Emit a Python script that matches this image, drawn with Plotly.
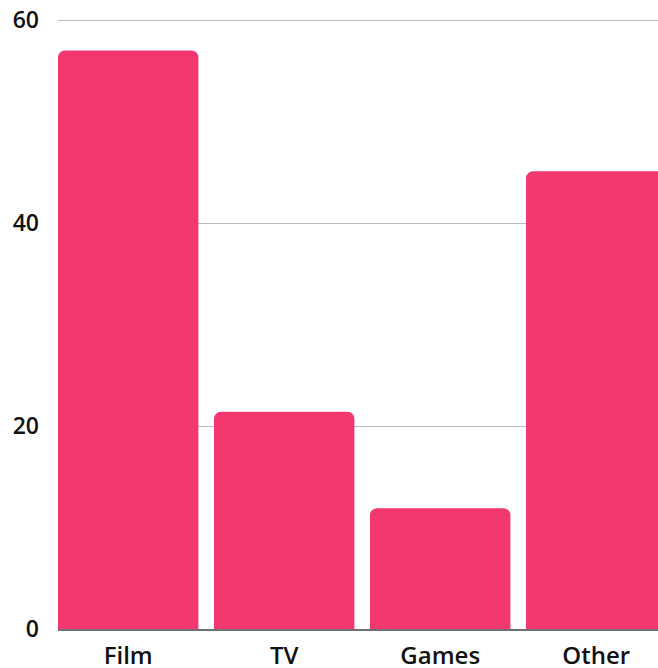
import plotly.graph_objects as go

categories = ["Film", "TV", "Games", "Other"]
values = [57.0, 21.4, 11.9, 45.1]
y_ticks = [0, 20, 40, 60]

label_font = dict(family="Open Sans", size=23, color="#111111", weight=600)
category_font = dict(family="Open Sans", size=24, color="#111111", weight=600)

fig = go.Figure(
    go.Bar(
        x=categories,
        y=values,
        width=0.9,
        marker=dict(color="#f2386e", line=dict(width=0)),
        hoverinfo="skip",
    )
)

fig.update_layout(
    width=658,
    height=668,
    margin=dict(l=58, r=0, t=19, b=39),
    paper_bgcolor="white",
    plot_bgcolor="white",
    barcornerradius=7,
    showlegend=False,
    font=label_font,
)

fig.update_xaxes(
    type="category",
    range=[-0.45, 3.396],
    automargin=False,
    showgrid=False,
    showline=True,
    linecolor="#6f6f6f",
    linewidth=2,
    ticks="",
    tickfont=category_font,
    ticklabelstandoff=4,
)

fig.update_yaxes(
    range=[0, 60.1],
    automargin=False,
    tickvals=y_ticks,
    showgrid=True,
    gridcolor="#bdbdbd",
    gridwidth=1,
    zeroline=False,
    showline=False,
    ticks="",
    tickfont=label_font,
    ticklabelstandoff=18,
)

fig.write_html("out.html")
